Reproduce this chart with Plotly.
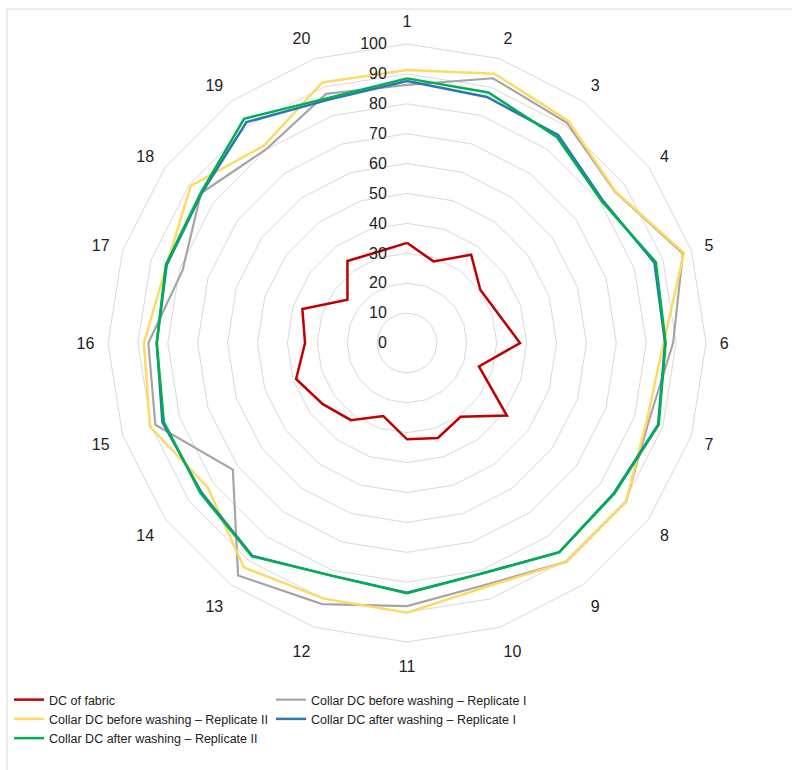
import plotly.graph_objects as go

categories = [str(i) for i in range(1, 21)]

dc_fabric = [33.5, 28.7, 36.5, 30.3, 32.0, 37.8, 25.3, 41.3, 30.5, 33.4,
             32.2, 25.7, 31.9, 34.8, 39.0, 34.1, 36.8, 24.6, 33.9, 32.0]
before_rep1 = [86.3, 93.1, 91.0, 86.0, 97.0, 89.0, 85.0, 90.5, 90.5, 85.0,
               88.0, 91.8, 96.1, 72.0, 88.5, 86.5, 78.9, 85.2, 80.1, 87.6]
before_rep2 = [91.3, 94.7, 91.8, 86.2, 97.4, 85.8, 84.3, 90.5, 90.6, 85.7,
               90.2, 89.9, 92.8, 82.3, 90.4, 88.0, 84.5, 89.4, 81.5, 91.6]
after_rep1 = [87.6, 86.5, 86.0, 81.0, 87.0, 86.3, 88.3, 85.5, 86.5, 81.0,
              83.5, 81.8, 88.0, 85.0, 86.0, 83.7, 84.5, 85.0, 91.3, 85.5]
after_rep2 = [88.5, 88.1, 85.2, 80.6, 87.5, 86.5, 88.5, 85.7, 86.6, 81.1,
              83.7, 81.8, 88.2, 85.4, 85.5, 83.7, 84.8, 85.3, 92.7, 86.1]

series_names = [
    "DC of fabric",
    "Collar DC before washing \u2013 Replicate I",
    "Collar DC before washing \u2013 Replicate II",
    "Collar DC after washing \u2013 Replicate I",
    "Collar DC after washing \u2013 Replicate II",
]
series_values = [dc_fabric, before_rep1, before_rep2, after_rep1, after_rep2]
series_colors = ["#C00000", "#A5A5A5", "#FFD966", "#2E75B6", "#00B050"]
series_widths = [2.5, 2.2, 2.5, 2.5, 2.5]

fig = go.Figure()
for name, vals, color, w in zip(series_names, series_values, series_colors, series_widths):
    fig.add_trace(go.Scatterpolar(
        r=vals + [vals[0]],
        theta=categories + [categories[0]],
        mode="lines",
        name=name,
        line=dict(color=color, width=w),
    ))

W, H = 792, 770
L, R, T, B = 108, 86, 44, 128
pw = W - L - R
ph = H - T - B


def px_x(x):
    return (x - L) / pw


def px_y(y):
    return (H - B - y) / ph


fig.update_layout(
    width=W,
    height=H,
    margin=dict(l=L, r=R, t=T, b=B, autoexpand=False),
    paper_bgcolor="white",
    plot_bgcolor="white",
    font=dict(family="Liberation Sans, Arial, sans-serif", color="#222222", size=16),
    polar=dict(
        bgcolor="white",
        gridshape="linear",
        domain=dict(x=[0, 1], y=[0, 1]),
        radialaxis=dict(
            range=[0, 100],
            dtick=10,
            angle=90,
            tickangle=90,
            side="counterclockwise",
            showline=False,
            ticks="outside",
            ticklen=14,
            tickcolor="rgba(0,0,0,0)",
            gridcolor="#D9D9D9",
            gridwidth=1,
            tickfont=dict(size=16, color="#222222"),
        ),
        angularaxis=dict(
            type="category",
            categoryarray=categories,
            rotation=90,
            direction="clockwise",
            showgrid=False,
            showline=True,
            linecolor="#D9D9D9",
            linewidth=1,
            ticks="outside",
            ticklen=10,
            tickcolor="rgba(0,0,0,0)",
            tickfont=dict(size=16, color="#222222"),
        ),
    ),
    showlegend=True,
    legend=dict(
        orientation="h",
        x=px_x(9),
        xanchor="left",
        y=px_y(685),
        yanchor="top",
        entrywidthmode="pixels",
        entrywidth=217,
        font=dict(family="Liberation Sans, Arial, sans-serif", size=12.5, color="#222222"),
        bgcolor="rgba(0,0,0,0)",
    ),
    shapes=[
        dict(type="line", xref="paper", yref="paper",
             x0=px_x(7), x1=px_x(800), y0=px_y(9), y1=px_y(9),
             line=dict(color="#D9D9D9", width=1)),
        dict(type="line", xref="paper", yref="paper",
             x0=px_x(7), x1=px_x(7), y0=px_y(9), y1=px_y(780),
             line=dict(color="#D9D9D9", width=1)),
    ],
)

fig.write_html("out.html", config={"displayModeBar": False},
               post_script="document.body.style.margin='0px';")
